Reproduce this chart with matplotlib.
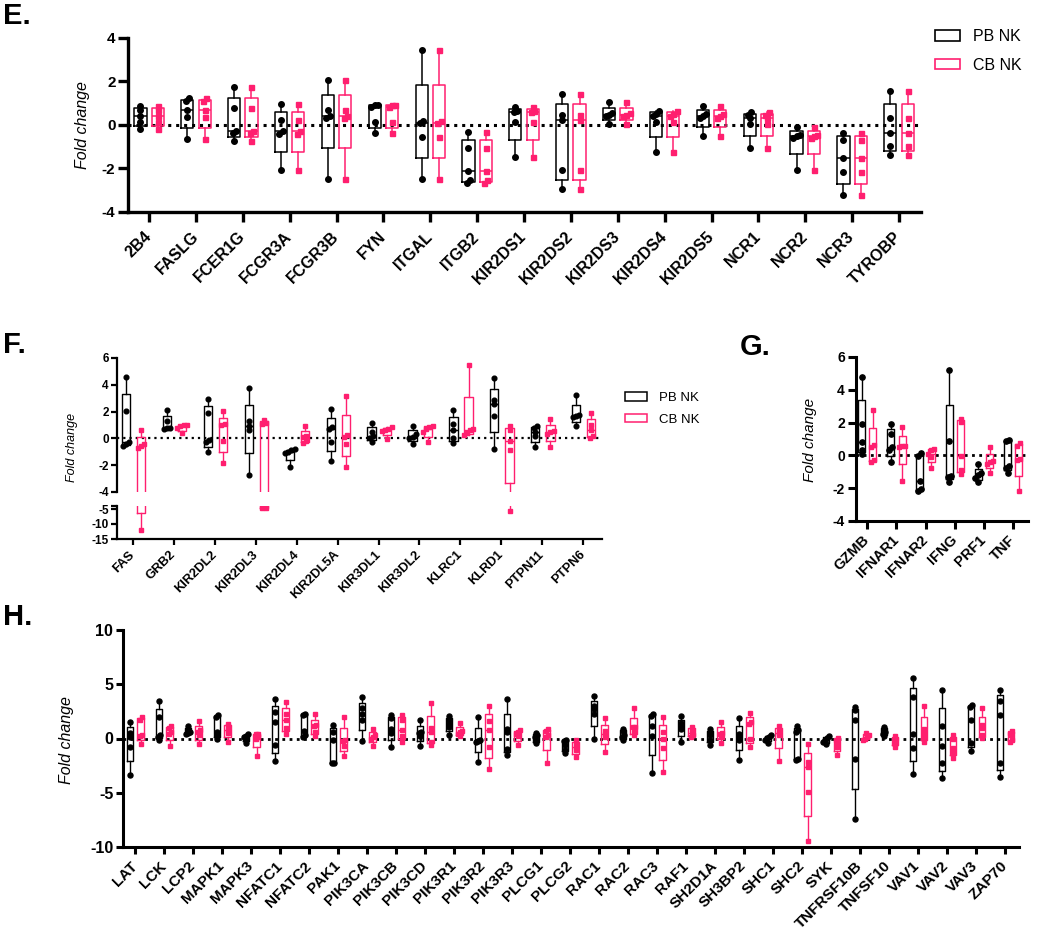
import numpy as np
import matplotlib
matplotlib.use('Agg')
import matplotlib.pyplot as plt
from matplotlib.patches import Patch

plt.rcParams['font.family'] = ['Liberation Sans', 'DejaVu Sans']

PINK = '#FF1F6F'
BLACK = '#000000'

# ---------------- Panel E ----------------
E_genes = ['2B4', 'FASLG', 'FCER1G', 'FCGR3A', 'FCGR3B', 'FYN', 'ITGAL', 'ITGB2',
           'KIR2DS1', 'KIR2DS2', 'KIR2DS3', 'KIR2DS4', 'KIR2DS5', 'NCR1', 'NCR2',
           'NCR3', 'TYROBP']
E_pb = [
    [0.88, 0.69, 0.40, 0.14, -0.20],
    [1.22, 1.10, 0.68, 0.35, -0.65],
    [1.75, 0.77, -0.27, -0.38, -0.74],
    [0.95, 0.25, -0.28, -0.42, -2.08],
    [2.08, 0.68, 0.42, 0.32, -2.48],
    [0.92, 0.90, 0.84, 0.12, -0.38],
    [3.46, 0.20, 0.10, -0.57, -2.48],
    [-0.34, -1.05, -2.10, -2.55, -2.65],
    [0.82, 0.65, 0.60, 0.12, -1.46],
    [1.43, 0.46, 0.23, -2.08, -2.95],
    [1.05, 0.55, 0.45, 0.40, 0.03],
    [0.65, 0.52, 0.42, 0.12, -1.23],
    [0.88, 0.50, 0.42, 0.30, -0.50],
    [0.58, 0.46, 0.30, 0.03, -1.08],
    [-0.08, -0.46, -0.50, -0.62, -2.08],
    [-0.35, -0.69, -1.54, -2.18, -3.23],
    [1.58, 0.31, -0.38, -0.97, -1.38],
]
E_cb = [
    [0.88, 0.69, 0.40, 0.14, -0.20],
    [1.22, 1.10, 0.68, 0.35, -0.65],
    [1.75, 0.77, -0.27, -0.38, -0.74],
    [0.95, 0.25, -0.28, -0.42, -2.08],
    [2.08, 0.68, 0.42, 0.32, -2.48],
    [0.92, 0.90, 0.84, 0.12, -0.38],
    [3.46, 0.20, 0.10, -0.57, -2.48],
    [-0.34, -1.05, -2.10, -2.55, -2.65],
    [0.82, 0.65, 0.60, 0.12, -1.46],
    [1.43, 0.46, 0.23, -2.08, -2.95],
    [1.05, 0.55, 0.45, 0.40, 0.03],
    [0.65, 0.52, 0.42, 0.12, -1.23],
    [0.88, 0.50, 0.42, 0.30, -0.50],
    [0.58, 0.46, 0.30, 0.03, -1.08],
    [-0.08, -0.46, -0.50, -0.62, -2.08],
    [-0.35, -0.69, -1.54, -2.18, -3.23],
    [1.58, 0.31, -0.38, -0.97, -1.38],
]
E_yticks = [-4, -2, 0, 2, 4]

# ---------------- Panel F ----------------
F_genes = ['FAS', 'GRB2', 'KIR2DL2', 'KIR2DL3', 'KIR2DL4', 'KIR2DL5A', 'KIR3DL1',
           'KIR3DL2', 'KLRC1', 'KLRD1', 'PTPN11', 'PTPN6']
F_pb = [
    [4.60, 2.05, -0.30, -0.45, -0.55],
    [2.09, 1.27, 0.80, 0.75, 0.70],
    [2.96, 1.89, -0.10, -0.30, -1.02],
    [3.76, 1.27, 0.95, 0.60, -2.76],
    [-0.82, -0.90, -1.00, -1.10, -2.12],
    [2.20, 0.85, 0.70, -0.27, -1.67],
    [1.18, 0.50, 0.20, 0.05, -0.25],
    [0.95, 0.30, 0.10, 0.00, -0.45],
    [2.14, 1.09, 0.60, 0.02, -0.35],
    [4.50, 2.89, 2.56, 1.69, -0.80],
    [0.90, 0.75, 0.50, 0.20, -0.67],
    [3.21, 1.77, 1.69, 1.57, 0.90],
]
F_cb = [
    [0.65, -0.40, -0.55, -0.70, -12.0],
    [1.02, 0.97, 0.90, 0.75, 0.40],
    [2.01, 1.09, 1.00, -0.22, -1.84],
    [1.40, 1.15, 1.05, -4.60, -4.60],
    [0.92, 0.20, 0.12, -0.20, -0.35],
    [3.18, 0.27, 0.10, -0.40, -2.16],
    [0.85, 0.70, 0.65, 0.57, -0.05],
    [0.95, 0.85, 0.70, 0.50, -0.25],
    [5.50, 0.72, 0.60, 0.40, 0.27],
    [0.95, 0.65, -0.22, -0.90, -5.80],
    [1.45, 0.55, 0.45, 0.30, -0.65],
    [1.89, 1.02, 0.65, 0.20, 0.02],
]
F_yticks_top = [-4, -2, 0, 2, 4, 6]
F_yticks_bottom = [-15, -10, -5]

# ---------------- Panel G ----------------
G_genes = ['GZMB', 'IFNAR1', 'IFNAR2', 'IFNG', 'PRF1', 'TNF']
G_pb = [
    [4.79, 1.94, 0.83, 0.32, 0.11],
    [1.90, 1.29, 0.50, 0.32, -0.39],
    [0.15, -0.02, -1.55, -2.06, -2.16],
    [5.23, 0.87, -1.26, -1.31, -1.62],
    [-0.54, -1.06, -1.22, -1.40, -1.65],
    [0.93, 0.85, -0.62, -0.74, -1.06],
]
G_cb = [
    [2.75, 0.62, 0.50, -0.25, -0.39],
    [1.74, 0.60, 0.55, 0.50, -1.55],
    [0.42, 0.30, 0.10, -0.10, -0.76],
    [2.25, 2.04, -0.05, -0.86, -1.15],
    [0.52, -0.35, -0.40, -0.50, -1.06],
    [0.77, 0.60, -0.20, -0.30, -2.16],
]
G_yticks = [-4, -2, 0, 2, 4, 6]

# ---------------- Panel H ----------------
H_genes = ['LAT', 'LCK', 'LCP2', 'MAPK1', 'MAPK3', 'NFATC1', 'NFATC2', 'PAK1',
           'PIK3CA', 'PIK3CB', 'PIK3CD', 'PIK3R1', 'PIK3R2', 'PIK3R3', 'PLCG1',
           'PLCG2', 'RAC1', 'RAC2', 'RAC3', 'RAF1', 'SH2D1A', 'SH3BP2', 'SHC1',
           'SHC2', 'SYK', 'TNFRSF10B', 'TNFSF10', 'VAV1', 'VAV2', 'VAV3', 'ZAP70']
H_pb = [
    [1.54, 0.52, 0.15, -0.77, -3.32],
    [3.45, 1.94, 0.30, 0.15, -0.10],
    [1.14, 0.80, 0.60, 0.50, 0.42],
    [2.15, 2.00, 0.60, 0.30, 0.00],
    [0.37, 0.22, 0.10, -0.10, -0.40],
    [3.60, 2.46, 1.54, -0.62, -2.09],
    [2.30, 2.15, 0.70, 0.30, 0.15],
    [1.29, 0.62, -0.15, -2.25, -2.30],
    [3.85, 2.77, 2.30, 1.69, -0.20],
    [2.15, 1.90, 0.92, 0.50, -0.77],
    [1.75, 0.60, 0.50, 0.20, -0.70],
    [2.06, 1.69, 1.38, 1.08, 0.30],
    [2.00, -0.15, -0.20, -0.35, -2.15],
    [3.60, 0.83, 0.62, -1.00, -1.54],
    [0.50, 0.30, 0.15, -0.10, -0.46],
    [-0.10, -0.20, -0.60, -1.05, -1.30],
    [3.95, 3.00, 2.70, 2.30, 0.00],
    [0.92, 0.65, 0.30, 0.10, -0.15],
    [2.30, 2.10, 1.14, 0.20, -3.17],
    [2.06, 1.40, 1.10, 0.83, -0.30],
    [0.83, 0.50, 0.30, -0.10, -0.60],
    [1.85, 0.40, 0.20, -0.10, -2.00],
    [0.30, 0.15, 0.05, -0.10, -0.40],
    [1.14, 0.77, 0.62, -1.85, -2.00],
    [0.20, 0.05, -0.10, -0.30, -0.50],
    [2.86, 2.60, 1.75, -1.85, -7.38],
    [1.08, 0.85, 0.62, 0.46, 0.20],
    [5.54, 3.85, 0.40, -0.92, -3.29],
    [4.46, 1.14, -0.68, -2.30, -3.63],
    [3.08, 2.92, 1.75, -0.40, -1.17],
    [4.46, 3.48, 2.15, -2.22, -3.54],
]
H_cb = [
    [1.94, 1.75, 0.30, 0.20, -0.55],
    [1.14, 0.95, 0.60, 0.40, -0.72],
    [1.63, 0.75, 0.60, 0.35, -0.55],
    [1.38, 1.14, 0.80, 0.55, -0.30],
    [0.46, 0.38, 0.12, 0.00, -1.60],
    [3.38, 2.30, 1.70, 1.00, 0.45],
    [2.30, 1.20, 1.14, 0.62, 0.20],
    [2.00, -0.10, -0.20, -0.70, -1.60],
    [0.92, 0.30, 0.15, 0.00, -0.70],
    [2.15, 1.75, 0.80, 0.20, -0.30],
    [3.23, 1.00, 0.62, -0.30, -0.62],
    [1.45, 0.70, 0.60, 0.46, 0.25],
    [2.98, 1.60, 0.80, -0.75, -2.77],
    [0.77, 0.60, 0.40, 0.20, -0.62],
    [0.83, 0.70, 0.30, 0.10, -2.25],
    [-0.15, -0.45, -0.77, -1.05, -1.75],
    [1.85, 0.70, 0.45, 0.15, -1.23],
    [2.77, 1.10, 1.05, 0.62, 0.30],
    [1.94, 0.60, 0.00, -0.90, -3.08],
    [1.08, 0.80, 0.50, 0.30, 0.15],
    [1.54, 0.50, 0.45, 0.25, -0.40],
    [2.37, 1.54, 1.38, 0.00, -0.77],
    [1.14, 0.77, 0.50, 0.30, -2.06],
    [-0.52, -2.15, -2.60, -4.92, -9.45],
    [0.05, -0.10, -0.45, -0.75, -1.55],
    [0.55, 0.35, 0.15, 0.00, -0.15],
    [0.20, 0.00, -0.30, -0.50, -0.75],
    [2.98, 0.92, 0.50, 0.10, -0.30],
    [0.30, 0.00, -0.90, -1.20, -1.80],
    [2.77, 1.20, 0.95, 0.30, 0.05],
    [0.70, 0.50, 0.30, -0.10, -0.30],
]
H_yticks = [-10, -5, 0, 5, 10]

GROUPS = ['PB NK', 'CB NK']

W, H = 1050, 932
fig = plt.figure(figsize=(W / 100, H / 100), dpi=100)


def px_axes(l, t, r, b):
    return fig.add_axes([l / W, 1 - b / H, (r - l) / W, (b - t) / H])


def gp_stats(vals):
    v = np.sort(np.asarray(vals, dtype=float))
    q1, med, q3 = np.percentile(v, [25, 50, 75], method='weibull')
    return dict(med=med, q1=q1, q3=q3, whislo=v.min(), whishi=v.max(), fliers=[])


def swarm_offsets(vals, thr, dx):
    vals = np.asarray(vals, dtype=float)
    order = np.argsort(vals)
    offs = np.zeros(len(vals))
    clusters = [[order[0]]]
    for idx in order[1:]:
        if vals[idx] - vals[clusters[-1][-1]] < thr:
            clusters[-1].append(idx)
        else:
            clusters.append([idx])
    for c in clusters:
        k = len(c)
        for j, idx in enumerate(c):
            offs[idx] = (j - (k - 1) / 2) * dx
    return offs


def draw_group(ax, data, offset, width, color, marker, ms, lw, thr, dx):
    pos = np.arange(len(data)) + offset
    stats = [gp_stats(d) for d in data]
    props = dict(color=color, linewidth=lw)
    ax.bxp(stats, positions=pos, widths=width, showfliers=False, showcaps=False,
           boxprops=props, whiskerprops=props, medianprops=props,
           manage_ticks=False)
    for p, d in zip(pos, data):
        offs = swarm_offsets(d, thr, dx)
        ax.plot(p + offs, d, ls='none', marker=marker, ms=ms, color=color,
                mec=color, zorder=4, clip_on=True)


def style_axes(ax, slw, tlen, fs, yticks, ylim, xlim):
    for s in ['top', 'right']:
        ax.spines[s].set_visible(False)
    for s in ['left', 'bottom']:
        ax.spines[s].set_linewidth(slw)
    ax.set_ylim(*ylim)
    ax.set_xlim(*xlim)
    ax.set_yticks(yticks)
    ax.set_yticklabels([str(t) for t in yticks], fontsize=fs, fontweight='bold')
    ax.tick_params(axis='both', width=slw, length=tlen, direction='out', pad=2)


def set_xlabels(ax, genes, fs, pad):
    ax.set_xticks(np.arange(len(genes)))
    ax.set_xticklabels(genes, rotation=45, ha='right', va='center',
                       rotation_mode='anchor', fontsize=fs, fontweight='bold')
    ax.tick_params(axis='x', pad=pad)


def zero_line(ax, lw, pattern):
    ax.axhline(0, color='black', lw=lw, ls=(0, pattern), zorder=1)


# ---------------- E ----------------
axE = px_axes(128, 38, 921, 212)
nE = len(E_genes)
style_axes(axE, 2.4, 7, 11, E_yticks, (-4, 4), (-0.45, nE - 1 + 0.47))
zero_line(axE, 2.2, (1, 1.6))
draw_group(axE, E_pb, -0.185, 0.26, BLACK, 'o', 4.0, 1.1, 0.15, 0.07)
draw_group(axE, E_cb, 0.185, 0.26, PINK, 's', 3.6, 1.1, 0.15, 0.07)
set_xlabels(axE, E_genes, 11.5, 9)
fig.text(83 / W, 1 - 125 / H, 'Fold change', rotation=90, ha='center', va='center',
         fontsize=11.5, style='italic')
fig.legend(handles=[Patch(facecolor='white', edgecolor=BLACK, lw=1.2),
                    Patch(facecolor='white', edgecolor=PINK, lw=1.2)],
           labels=GROUPS, loc='upper left',
           bbox_to_anchor=(935 / W, 1 - 29 / H), frameon=False, fontsize=11.5,
           handlelength=1.55, handleheight=0.65, handletextpad=0.8,
           labelspacing=0.85, borderpad=0, borderaxespad=0)
fig.text(3 / W, 1 - 16 / H, 'E.', fontsize=21, fontweight='bold', va='center', ha='left')

# ---------------- F (broken axis) ----------------
nF = len(F_genes)
xlimF = (-0.39, nF - 1 + 0.46)
axF1 = px_axes(117, 358, 602, 492)
axF2 = px_axes(117, 506, 602, 539)
style_axes(axF1, 1.6, 4, 8.5, F_yticks_top, (-4, 6), xlimF)
style_axes(axF2, 1.6, 4, 8.5, F_yticks_bottom, (-15, -4), xlimF)
axF1.spines['bottom'].set_visible(False)
axF1.tick_params(axis='x', bottom=False, labelbottom=False)
zero_line(axF1, 1.6, (1, 1.8))
for ax in (axF1, axF2):
    draw_group(ax, F_pb, -0.17, 0.2, BLACK, 'o', 3.4, 1.0, 0.25, 0.08)
    draw_group(ax, F_cb, 0.2, 0.2, PINK, 's', 3.1, 1.0, 0.25, 0.08)
set_xlabels(axF2, F_genes, 9.3, 6)
axF2.plot([-0.012, 0], [1, 1], transform=axF2.transAxes, color='black', lw=1.6,
          clip_on=False, solid_capstyle='butt')
fig.text(72 / W, 1 - 447 / H, 'Fold change', rotation=90, ha='center', va='center',
         fontsize=9, style='italic')
fig.legend(handles=[Patch(facecolor='white', edgecolor=BLACK, lw=1.1),
                    Patch(facecolor='white', edgecolor=PINK, lw=1.1)],
           labels=GROUPS, loc='upper left', bbox_to_anchor=(625 / W, 1 - 392 / H),
           frameon=False, fontsize=9.5, handlelength=1.65, handleheight=0.6,
           handletextpad=0.9, labelspacing=0.75, borderpad=0, borderaxespad=0)
fig.text(3 / W, 1 - 345 / H, 'F.', fontsize=21, fontweight='bold', va='center', ha='left')

# ---------------- G ----------------
nG = len(G_genes)
axG = px_axes(856, 357, 1028, 521)
style_axes(axG, 2.2, 6, 10, G_yticks, (-4, 6), (-0.38, nG - 1 + 0.51))
zero_line(axG, 2.0, (1, 1.6))
draw_group(axG, G_pb, -0.19, 0.24, BLACK, 'o', 3.8, 1.0, 0.2, 0.1)
draw_group(axG, G_cb, 0.2, 0.24, PINK, 's', 3.4, 1.0, 0.2, 0.1)
set_xlabels(axG, G_genes, 10.5, 6)
fig.text(810 / W, 1 - 440 / H, 'Fold change', rotation=90, ha='center', va='center',
         fontsize=11, style='italic')
fig.text(740 / W, 1 - 347 / H, 'G.', fontsize=21, fontweight='bold', va='center', ha='left')

# ---------------- H ----------------
nH = len(H_genes)
axH = px_axes(123, 630, 1019, 847)
style_axes(axH, 2.2, 5, 11.5, H_yticks, (-10, 10), (-0.41, nH - 1 + 0.48))
zero_line(axH, 2.0, (1, 1.6))
draw_group(axH, H_pb, -0.17, 0.23, BLACK, 'o', 3.6, 1.0, 0.2, 0.07)
draw_group(axH, H_cb, 0.2, 0.23, PINK, 's', 3.3, 1.0, 0.2, 0.07)
set_xlabels(axH, H_genes, 11, 7)
fig.text(67 / W, 1 - 740 / H, 'Fold change', rotation=90, ha='center', va='center',
         fontsize=11.5, style='italic')
fig.text(3 / W, 1 - 617 / H, 'H.', fontsize=21, fontweight='bold', va='center', ha='left')

fig.savefig('out.png', dpi=100)
